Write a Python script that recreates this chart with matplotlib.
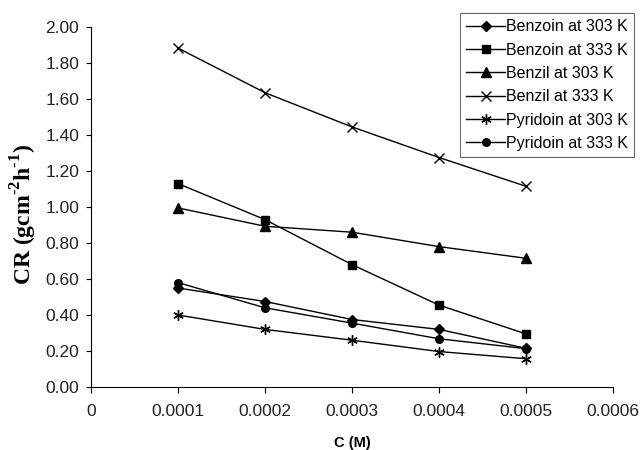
import matplotlib
matplotlib.use("Agg")
import matplotlib.pyplot as plt

conc = [0.0001, 0.0002, 0.0003, 0.0004, 0.0005]

benzoin_303 = [0.55, 0.475, 0.375, 0.32, 0.215]
benzoin_333 = [1.13, 0.93, 0.68, 0.455, 0.295]
benzil_303 = [0.995, 0.893, 0.86, 0.78, 0.715]
benzil_333 = [1.883, 1.635, 1.445, 1.275, 1.115]
pyridoin_303 = [0.40, 0.32, 0.26, 0.197, 0.157]
pyridoin_333 = [0.58, 0.44, 0.355, 0.268, 0.213]

labels = ["Benzoin at 303 K", "Benzoin at 333 K", "Benzil at 303 K",
          "Benzil at 333 K", "Pyridoin at 303 K", "Pyridoin at 333 K"]
series = [benzoin_303, benzoin_333, benzil_303, benzil_333, pyridoin_303, pyridoin_333]
markers = [("D", 5), ("s", 5.5), ("^", 6.5), ("x", 6.5), ((6, 2, 0), 7.5), ("o", 5.5)]

x_ticks = [0, 0.0001, 0.0002, 0.0003, 0.0004, 0.0005, 0.0006]
x_ticklabels = ["0", "0.0001", "0.0002", "0.0003", "0.0004", "0.0005", "0.0006"]
y_ticks = [0.0, 0.2, 0.4, 0.6, 0.8, 1.0, 1.2, 1.4, 1.6, 1.8, 2.0]

plt.rcParams["font.family"] = ["Liberation Sans", "DejaVu Sans"]
plt.rcParams["mathtext.fontset"] = "custom"
plt.rcParams["mathtext.rm"] = "Liberation Serif:bold"
plt.rcParams["mathtext.bf"] = "Liberation Serif:bold"

fig = plt.figure(figsize=(6.43, 4.5), dpi=100)
ax = fig.add_axes([0.1415, 0.14, 0.8118, 0.80])

for ys, lab, (m, ms) in zip(series, labels, markers):
    ax.plot(conc, ys, color="black", lw=1.0, marker=m, markersize=ms,
            markeredgewidth=1.0, label=lab)

ax.set_xlim(0, 0.0006)
ax.set_ylim(0, 2.0)
ax.set_xticks(x_ticks)
ax.set_xticklabels(x_ticklabels, fontsize=12.5, color="#222222")
ax.set_yticks(y_ticks)
ax.set_yticklabels([f"{v:.2f}" for v in y_ticks], fontsize=12.5, color="#222222")
ax.tick_params(axis="y", direction="out", length=3.6, width=0.8, pad=5)
ax.tick_params(axis="x", direction="out", length=4.3, width=0.8, pad=8)
for side in ("top", "right"):
    ax.spines[side].set_visible(False)
for side in ("left", "bottom"):
    ax.spines[side].set_linewidth(0.8)

ax.set_xlabel("C (M)", fontsize=10.5, fontweight="bold", labelpad=12)
ax.set_ylabel(r"CR (gcm$^{\text{-2}}$h$^{\text{-1}}$)", fontsize=17,
              fontweight="bold", family="Liberation Serif")
ax.yaxis.set_label_coords(-0.1, 0.48)

leg = fig.legend(loc="upper left", bbox_to_anchor=(0.7154, 0.971), fontsize=11.5,
                 frameon=True, fancybox=False, edgecolor="#444444",
                 handlelength=2.4, handletextpad=0.05, labelspacing=0.52,
                 borderpad=0.4, borderaxespad=0)
leg.get_frame().set_linewidth(0.8)

fig.savefig("out.png", dpi=100)
